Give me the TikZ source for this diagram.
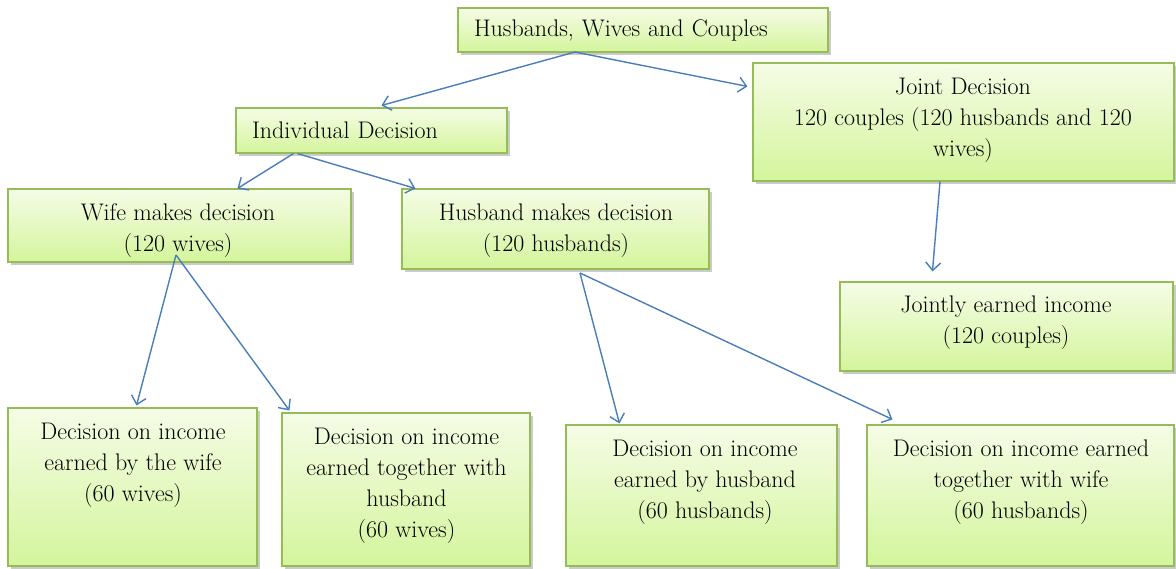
\documentclass[tikz,border=0pt]{standalone}
\usetikzlibrary{arrows.meta,shadows}

\definecolor{boxgreen}{RGB}{150,188,90}
\definecolor{boxtop}{RGB}{245,252,230}
\definecolor{boxbot}{RGB}{212,245,156}
\definecolor{linkblue}{RGB}{74,126,187}
\newcommand{\boxfont}{\fontsize{24}{31}\selectfont}

\begin{document}
\begin{tikzpicture}[x=1pt,y=-1pt,
  box/.style={draw=boxgreen, line width=1.1pt, top color=boxtop, bottom color=boxbot,
    drop shadow={shadow xshift=3pt, shadow yshift=-3pt, fill=black!45, opacity=0.45},
    inner sep=0pt, font=\boxfont, align=center},
  lbox/.style={box, inner xsep=16pt, align=left},
  txt/.style={inner sep=0pt, font=\boxfont, align=center},
  link/.style={draw=linkblue, line width=1.4pt, -{Straight Barb[length=8pt,width=15pt]}}]
  \useasboundingbox (0,0) rectangle (1176,568);

  % first level
  \node[lbox, text width=338pt, minimum height=44pt] (top) at (643,30) {Husbands, Wives and Couples};
  \node[lbox, text width=239pt, minimum height=45pt] (indiv) at (371.5,130.5) {Individual Decision};
  \node[box, minimum width=421pt, minimum height=118pt] (joint) at (963.5,122) {};
  \node[txt] (joint-t) at (963,120) {Joint Decision\\120 couples (120 husbands and 120\\wives)};

  % second level
  \node[box, minimum width=343pt, minimum height=73pt] (wife) at (179.5,225.5) {};
  \node[txt] (wife-t) at (178,230.5) {Wife makes decision\\(120 wives)};
  \node[box, minimum width=307pt, minimum height=80pt] (husb) at (555.5,229) {};
  \node[txt] (husb-t) at (556,230.5) {Husband makes decision\\(120 husbands)};
  \node[box, minimum width=333pt, minimum height=89pt] (jointinc) at (1006.5,326.5) {};
  \node[txt] (jointinc-t) at (1006,323) {Jointly earned income\\(120 couples)};

  % third level
  \node[box, minimum width=249pt, minimum height=158pt] (wifeown) at (132.5,487) {};
  \node[txt] (wifeown-t) at (133,465) {Decision on income\\earned by the wife\\(60 wives)};
  \node[box, minimum width=248pt, minimum height=153pt] (wifetog) at (406,489.5) {};
  \node[txt] (wifetog-t) at (406.5,486) {Decision on income\\earned together with\\husband\\(60 wives)};
  \node[box, minimum width=271pt, minimum height=141pt] (husbown) at (701.5,495.5) {};
  \node[txt] (husbown-t) at (705,482.5) {Decision on income\\earned by husband\\(60 husbands)};
  \node[box, minimum width=307pt, minimum height=141pt] (husbtog) at (1020.5,495.5) {};
  \node[txt] (husbtog-t) at (1021,482.5) {Decision on income earned\\together with wife\\(60 husbands)};

  \coordinate (topsrc) at (575,52);
  \coordinate (wsrc) at (176,255);
  \coordinate (hsrc) at (580,273);

  \draw[link] (topsrc) -- ([xshift=10pt,yshift=2pt]indiv.north);
  \draw[link] (topsrc) -- ([xshift=-5pt,yshift=-24pt]joint.north west);
  \draw[link] ([xshift=-78pt]indiv.south) -- ([xshift=58pt]wife.north);
  \draw[link] ([xshift=-74pt]indiv.south) -- ([xshift=14pt]husb.north west);
  \draw[link] (wsrc) -- ([xshift=4pt,yshift=2pt]wifeown.north);
  \draw[link] (wsrc) -- ([xshift=8pt,yshift=2pt]wifetog.north west);
  \draw[link] (hsrc) -- ([xshift=54pt,yshift=1pt]husbown.north west);
  \draw[link] (hsrc) -- ([xshift=26pt,yshift=5pt]husbtog.north west);
  \draw[link] ([xshift=-23.5pt]joint.south) -- ([xshift=93pt,yshift=10pt]jointinc.north west);
\end{tikzpicture}
\end{document}
